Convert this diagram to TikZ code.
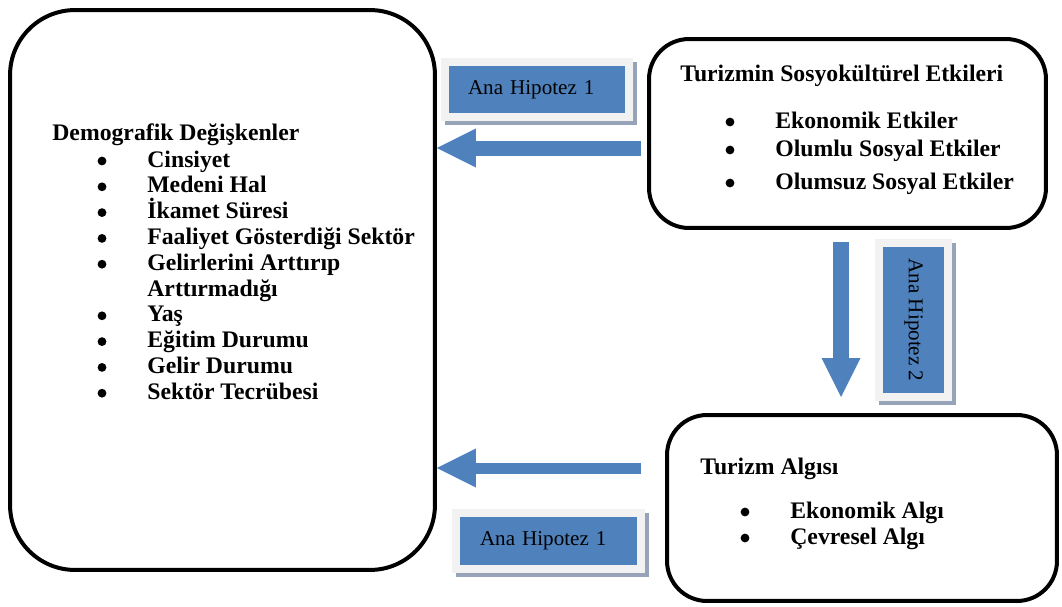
\documentclass[tikz,border=0pt]{standalone}
\usepackage{fontspec}
\setmainfont{Liberation Serif}
\usetikzlibrary{arrows.meta}
\definecolor{hipblue}{RGB}{79,129,189}
\definecolor{hipframe}{RGB}{242,242,242}
\definecolor{hipshadow}{RGB}{150,163,184}
\tikzset{
  bigbox/.style={draw, line width=0.08cm, inner sep=0pt},
  hipbox/.style={fill=hipblue, inner sep=0pt, font=\fontsize{12}{14}\selectfont,
    preaction={draw=hipshadow, fill=hipshadow, line width=0.32cm,
      transform canvas={shift={(0.08cm,-0.08cm)}}},
    preaction={draw=hipframe, line width=0.32cm}},
  txt/.style={anchor=base west, inner sep=0pt, font=\fontsize{13.5}{16}\selectfont\bfseries},
  blockarrow/.style={draw=hipblue, line width=#1,
    -{Triangle[width=0.78cm, length=0.78cm, line width=0pt]}}
}
\begin{document}
\begin{tikzpicture}[x=0.02cm, y=-0.02cm]
\useasboundingbox (0,0) rectangle (1062,606);
% the three boxes
\node[bigbox, minimum width=8.5cm, minimum height=11.2cm, rounded corners=1.3cm] (demo) at (222.5,290) {};
\node[bigbox, minimum width=7.94cm, minimum height=3.78cm, rounded corners=0.8cm] (etki) at (847.5,133.5) {};
\node[bigbox, minimum width=7.8cm, minimum height=3.72cm, rounded corners=0.8cm] (algi) at (862,508) {};

% demografik
\node[txt] (demoh) at (52,140) {Demografik Değişkenler};
\foreach \t [count=\i from 0] in {Cinsiyet, Medeni Hal, İkamet Süresi,
    Faaliyet Gösterdiği Sektör, Gelirlerini Arttırıp, Arttırmadığı,
    Yaş, Eğitim Durumu, Gelir Durumu, Sektör Tecrübesi}
  \node[txt] (dem\i) at (147,{167+25.8*\i}) {\t};

% etkiler
\node[txt] (etkih) at (680,81) {Turizmin Sosyokültürel Etkileri};
\node[txt] (etki1) at (775,128) {Ekonomik Etkiler};
\node[txt] (etki2) at (775,156) {Olumlu Sosyal Etkiler};
\node[txt] (etki3) at (775,189) {Olumsuz Sosyal Etkiler};

% algi
\node[txt] (algih) at (700,474) {Turizm Algısı};
\node[txt] (algi1) at (790,518) {Ekonomik Algı};
\node[txt] (algi2) at (790,544) {Çevresel Algı};

% bullets
\foreach \n in {dem0,dem1,dem2,dem3,dem4,dem6,dem7,dem8,dem9,etki1,etki2,etki3,algi1,algi2}
  \fill ([shift={(-0.9cm,0.12cm)}]\n.base west) circle (0.088cm);

% hipotez labels
\node[hipbox, minimum width=3.52cm, minimum height=0.94cm, text width=2.76cm, align=left] (hip1a) at (537,89.5) {Ana Hipotez 1};
\node[hipbox, minimum width=3.54cm, minimum height=0.96cm, text width=2.74cm, align=left] (hip1b) at (548.5,541) {Ana Hipotez 1};
\node[hipbox, minimum width=1.22cm, minimum height=2.92cm] (hip2) at (913.5,320) {\rotatebox{-90}{Ana Hipotez 2}};

% arrows
\coordinate (t1) at (641,148);
\coordinate (b1) at (641,468);
\coordinate (v1) at (841,242);
\coordinate (v2) at (841,397);
\draw[blockarrow=0.3cm] (t1) -- (demo.east |- t1);
\draw[blockarrow=0.22cm] (b1) -- (demo.east |- b1);
\draw[blockarrow=0.32cm] (v1) -- (v2);
\end{tikzpicture}
\end{document}
